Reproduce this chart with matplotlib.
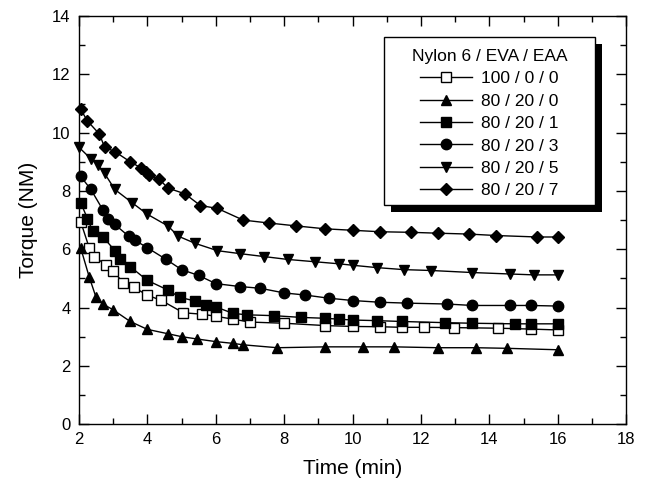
import matplotlib
matplotlib.use('Agg')
from matplotlib import pyplot as plt
from matplotlib.patches import Rectangle

plt.rcParams['font.family'] = ['Liberation Sans', 'DejaVu Sans']

# torque vs time for each blend (Nylon 6 / EVA / EAA)
t_100_0_0 = [2.05, 2.3, 2.45, 2.8, 3.0, 3.3, 3.6, 4.0, 4.4, 5.05, 5.6, 6.0, 6.5, 7.0,
             8.0, 9.2, 10.0, 10.8, 11.45, 12.1, 12.95, 14.25, 15.2, 16.0]
q_100_0_0 = [6.95, 6.05, 5.75, 5.45, 5.25, 4.85, 4.7, 4.42, 4.25, 3.82, 3.77, 3.7, 3.6, 3.5,
             3.46, 3.38, 3.35, 3.34, 3.32, 3.32, 3.31, 3.29, 3.26, 3.23]

t_80_20_0 = [2.05, 2.3, 2.5, 2.7, 3.0, 3.5, 4.0, 4.6, 5.0, 5.45, 6.0, 6.5, 6.8, 7.8,
             9.2, 10.3, 11.2, 12.5, 13.6, 14.5, 16.0]
q_80_20_0 = [6.05, 5.05, 4.35, 4.12, 3.92, 3.52, 3.25, 3.1, 3.0, 2.92, 2.83, 2.77, 2.72, 2.62,
             2.65, 2.65, 2.65, 2.62, 2.62, 2.6, 2.55]

t_80_20_1 = [2.05, 2.25, 2.4, 2.7, 3.05, 3.2, 3.5, 4.0, 4.6, 4.95, 5.4, 5.7, 6.0, 6.5,
             6.9, 7.7, 8.5, 9.2, 9.6, 10.0, 10.7, 11.45, 12.7, 13.5, 14.75, 15.2, 16.0]
q_80_20_1 = [7.6, 7.05, 6.62, 6.43, 5.95, 5.65, 5.4, 4.93, 4.6, 4.35, 4.22, 4.1, 4.02, 3.8,
             3.75, 3.72, 3.66, 3.63, 3.6, 3.57, 3.55, 3.52, 3.48, 3.46, 3.44, 3.44, 3.44]

t_80_20_3 = [2.05, 2.35, 2.7, 2.85, 3.05, 3.45, 3.65, 4.0, 4.55, 5.0, 5.5, 6.0, 6.7, 7.3,
             8.0, 8.6, 9.3, 10.0, 10.8, 11.6, 12.75, 13.5, 14.6, 15.2, 16.0]
q_80_20_3 = [8.5, 8.05, 7.35, 7.05, 6.85, 6.45, 6.3, 6.05, 5.65, 5.3, 5.1, 4.82, 4.72, 4.66,
             4.5, 4.43, 4.32, 4.24, 4.18, 4.15, 4.12, 4.07, 4.07, 4.07, 4.05]

t_80_20_5 = [2.0, 2.35, 2.55, 2.75, 3.05, 3.55, 4.0, 4.6, 4.9, 5.4, 6.05, 6.7, 7.4, 8.1,
             8.9, 9.6, 10.0, 10.7, 11.5, 12.3, 13.5, 14.6, 15.3, 16.0]
q_80_20_5 = [9.5, 9.1, 8.9, 8.6, 8.05, 7.6, 7.2, 6.8, 6.45, 6.2, 5.95, 5.85, 5.75, 5.65,
             5.57, 5.5, 5.45, 5.37, 5.3, 5.27, 5.2, 5.15, 5.12, 5.12]

t_80_20_7 = [2.05, 2.25, 2.6, 2.75, 3.05, 3.5, 3.8, 3.95, 4.05, 4.35, 4.6, 5.1, 5.55, 6.05,
             6.8, 7.55, 8.35, 9.2, 10.0, 10.8, 11.7, 12.5, 13.4, 14.2, 15.4, 16.0]
q_80_20_7 = [10.8, 10.4, 9.95, 9.5, 9.35, 9.0, 8.8, 8.65, 8.55, 8.4, 8.1, 7.9, 7.5, 7.4,
             7.0, 6.9, 6.8, 6.7, 6.65, 6.6, 6.58, 6.55, 6.52, 6.47, 6.42, 6.42]

series = [
    ('100 / 0 / 0', t_100_0_0, q_100_0_0, 's', 'white'),
    ('80 / 20 / 0', t_80_20_0, q_80_20_0, '^', 'black'),
    ('80 / 20 / 1', t_80_20_1, q_80_20_1, 's', 'black'),
    ('80 / 20 / 3', t_80_20_3, q_80_20_3, 'o', 'black'),
    ('80 / 20 / 5', t_80_20_5, q_80_20_5, 'v', 'black'),
    ('80 / 20 / 7', t_80_20_7, q_80_20_7, 'D', 'black'),
]


def main():
    fig = plt.figure(figsize=(6.47, 4.88), dpi=100)
    ax = fig.add_axes([0.122, 0.131, 0.846, 0.836])

    for label, t, q, mk, fc in series:
        size = 6.5 if mk == 'D' else 7.5
        ax.plot(t, q, color='black', linewidth=1.0, marker=mk, markersize=size,
                markerfacecolor=fc, markeredgecolor='black', markeredgewidth=1.0,
                label=label, clip_on=False, zorder=3)

    ax.set_xlim(2, 18)
    ax.set_ylim(0, 14)
    ax.set_xticks(range(2, 19, 2))
    ax.set_yticks(range(0, 15, 2))
    ax.set_xticks(range(3, 18, 2), minor=True)
    ax.set_yticks(range(1, 14, 2), minor=True)
    ax.tick_params(which='both', direction='in', top=True, right=True,
                   width=1.0, labelsize=12, pad=6)
    ax.tick_params(which='major', length=7)
    ax.tick_params(which='minor', length=4)
    for sp in ax.spines.values():
        sp.set_linewidth(1.0)

    ax.set_xlabel('Time (min)', fontsize=15, labelpad=8)
    ax.set_ylabel('Torque (NM)', fontsize=15, labelpad=10)

    # legend box with drop shadow, drawn by hand so it has the original size
    x0, y0, w, h = 0.557, 0.537, 0.386, 0.412
    dx = 7.0 / ax.bbox.width
    dy = 7.0 / ax.bbox.height
    ax.add_patch(Rectangle((x0 + dx, y0 - dy), w, h, transform=ax.transAxes,
                           facecolor='black', edgecolor='none', zorder=8, clip_on=False))
    ax.add_patch(Rectangle((x0, y0), w, h, transform=ax.transAxes,
                           facecolor='white', edgecolor='black', linewidth=1.0,
                           zorder=9, clip_on=False))
    leg = ax.legend(title='Nylon 6 / EVA / EAA', loc='upper center',
                    bbox_to_anchor=(x0 + w / 2, y0 + h - 0.012), fontsize=12.5,
                    title_fontsize=12.5, frameon=False,
                    handlelength=3.0, handletextpad=0.5, borderpad=0.4,
                    labelspacing=0.42, borderaxespad=0)
    leg.set_zorder(10)

    fig.savefig('out.png', dpi=100)


main()
